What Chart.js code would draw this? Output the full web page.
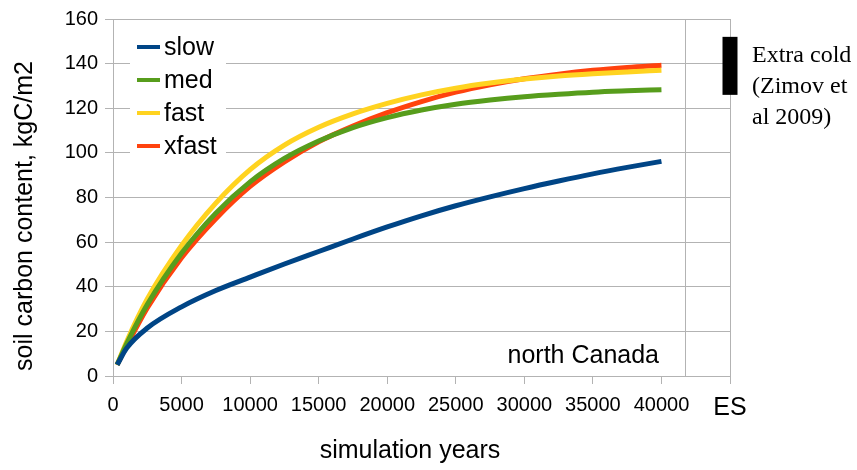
<!DOCTYPE html>
<html>
<head>
<meta charset="utf-8">
<script src="https://cdn.jsdelivr.net/npm/chart.js@4"></script>
<style>
  html, body { margin: 0; padding: 0; background: #fff; }
  #wrap { width: 857px; height: 470px; position: relative; }
</style>
</head>
<body>
<div id="wrap"><canvas id="soilChart"></canvas></div>
<script>
// simulation years (x) and soil carbon per run, kgC/m2
const years = [300, 1000, 2500, 5000, 7500, 10000, 12500, 15000, 17500, 20000, 22500, 25000, 27500, 30000, 32500, 35000, 37500, 40000];
const slow  = [5, 12.5, 21.5, 31, 38.3, 44.3, 50.2, 55.8, 61.4, 66.8, 71.8, 76.3, 80.3, 84, 87.4, 90.6, 93.5, 96.2];
const med   = [5, 14.5, 32, 55, 73, 87, 97.5, 105.3, 111.3, 115.8, 119.2, 121.8, 123.7, 125.2, 126.3, 127.2, 127.8, 128.3];
const fast  = [5, 15.5, 34.5, 58.5, 77.5, 92.5, 103.5, 111.5, 117.5, 122.2, 126, 129, 131.3, 133.1, 134.5, 135.5, 136.3, 137];
const xfast = [5, 13.5, 30.5, 53, 70.5, 85, 96, 105, 112, 118, 123, 127.2, 130.5, 133.2, 135.3, 137, 138.3, 139.3];

const seriesNames = ['slow', 'med', 'fast', 'xfast'];
const seriesColors = ['#004586', '#579d1c', '#ffd320', '#ff420e'];

// observed range shown at the "ES" position
const esYear = 45000;
const esRange = [126, 152];
const separatorYear = 41700;

const noteLines = ['Extra cold', '(Zimov et', 'al 2009)'];
const regionLabel = 'north Canada';
const xTitle = 'simulation years';
const yTitle = 'soil carbon content, kgC/m2';

const gridColor = '#b3b3b3';
const sans = 'Liberation Sans, Arial, sans-serif';
const serif = 'Liberation Serif, Times New Roman, serif';

function pts(values) {
    return values.map((v, i) => ({ x: years[i], y: v }));
}

const seriesData = [slow, med, fast, xfast];

const datasets = seriesData.map((vals, i) => ({
    label: seriesNames[i],
    data: pts(vals),
    borderColor: seriesColors[i],
    backgroundColor: seriesColors[i],
    borderWidth: 5,
    pointRadius: 0,
    cubicInterpolationMode: 'monotone',
    fill: false
}));

datasets.push({
    label: 'ES',
    data: esRange.map(v => ({ x: esYear, y: v })),
    borderColor: '#000',
    borderWidth: 15,
    borderCapStyle: 'butt',
    pointRadius: 0,
    tension: 0,
    clip: false
});

const extras = {
    id: 'extras',
    beforeDatasetsDraw(chart) {
        const { ctx, chartArea, scales } = chart;
        const px = Math.round(scales.x.getPixelForValue(separatorYear)) + 0.5;
        ctx.save();
        ctx.strokeStyle = gridColor;
        ctx.lineWidth = 1;
        ctx.beginPath();
        ctx.moveTo(px, chartArea.top);
        ctx.lineTo(px, chartArea.bottom);
        ctx.stroke();
        ctx.restore();
    },
    afterDraw(chart) {
        const { ctx, chartArea } = chart;
        const { left, top, right, bottom } = chartArea;
        ctx.save();

        // legend inside the plot
        ctx.fillStyle = '#fff';
        ctx.fillRect(left + 17, top + 12, 96, 130);
        ctx.font = '25px ' + sans;
        ctx.textBaseline = 'middle';
        ctx.textAlign = 'left';
        seriesNames.forEach((name, i) => {
            const y = top + 28 + i * 33;
            ctx.strokeStyle = seriesColors[i];
            ctx.lineWidth = 4;
            ctx.beginPath();
            ctx.moveTo(left + 24, y);
            ctx.lineTo(left + 47, y);
            ctx.stroke();
            ctx.fillStyle = '#000';
            ctx.fillText(name, left + 51, y + 1);
        });

        // region label
        ctx.textAlign = 'right';
        ctx.textBaseline = 'alphabetic';
        ctx.fillText(regionLabel, right - 71, bottom - 13);

        // note on the right
        ctx.textAlign = 'left';
        ctx.font = '24px ' + serif;
        noteLines.forEach((line, i) => {
            ctx.fillText(line, right + 22, top + 43 + i * 31);
        });

        // axis titles
        ctx.font = '25px ' + sans;
        ctx.textAlign = 'center';
        ctx.textBaseline = 'middle';
        ctx.fillText(xTitle, 410, 451);
        ctx.translate(25, 216);
        ctx.rotate(-Math.PI / 2);
        ctx.fillText(yTitle, 0, 0);

        ctx.restore();
    }
};

new Chart(document.getElementById('soilChart'), {
    type: 'line',
    data: { datasets },
    options: {
        responsive: true,
        maintainAspectRatio: false,
        animation: false,
        devicePixelRatio: 1,
        layout: { padding: { left: 0, right: 127, top: 16, bottom: 0 } },
        plugins: {
            legend: { display: false },
            tooltip: { enabled: false }
        },
        scales: {
            x: {
                type: 'linear',
                min: 0,
                max: esYear,
                afterFit(scale) { scale.height = 94; },
                grid: {
                    color: c => (c.tick && c.tick.value === esYear ? gridColor : 'transparent'),
                    tickColor: gridColor,
                    tickLength: 8
                },
                border: { color: gridColor },
                ticks: {
                    stepSize: 5000,
                    maxRotation: 0,
                    autoSkip: false,
                    padding: 9,
                    color: '#000',
                    font: c => (c.tick && c.tick.value === esYear
                        ? { family: sans, size: 25 }
                        : { family: sans, size: 20 }),
                    callback: v => (v === esYear ? 'ES' : String(v))
                }
            },
            y: {
                min: 0,
                max: 160,
                afterFit(scale) { scale.width = 113; },
                grid: { color: gridColor, tickLength: 8 },
                border: { color: gridColor },
                ticks: {
                    stepSize: 20,
                    padding: 7,
                    color: '#000',
                    font: { family: sans, size: 20 }
                }
            }
        }
    },
    plugins: [extras]
});
</script>
</body>
</html>
